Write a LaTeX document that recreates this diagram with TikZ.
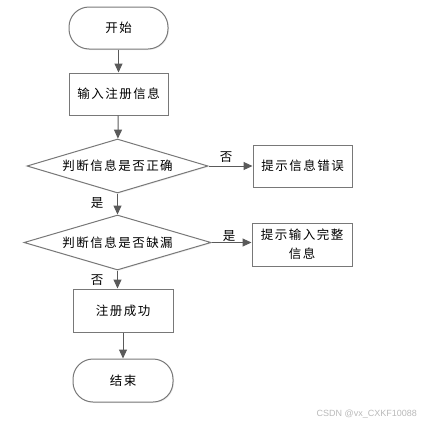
\documentclass[tikz,border=0pt]{standalone}
\usepackage{fontspec}
\usepackage{xcolor}
\usetikzlibrary{arrows.meta,shapes.geometric,shadows}
\newfontfamily\cjk[LetterSpace=12]{Noto Sans CJK SC}
\newfontfamily\wmfont{Liberation Sans}
\definecolor{edge}{RGB}{90,90,90}
\definecolor{frame}{RGB}{120,120,120}
\begin{document}
\begin{tikzpicture}[x=1pt,y=-1pt,
    base/.style={draw=frame,line width=1pt,fill=white,font=\cjk\fontsize{12.5}{18}\selectfont,
                 inner sep=0pt,drop shadow={opacity=0.12,shadow xshift=1pt,shadow yshift=-1pt}},
    terminal/.style={base,rectangle,rounded corners=20pt,minimum width=99pt,minimum height=42pt},
    procbox/.style={base,rectangle,minimum width=99pt,minimum height=42pt,align=center},
    decision/.style={base,diamond,aspect=3.35,minimum width=181pt,minimum height=54pt},
    flow/.style={-{Triangle[length=9pt,width=8pt]},edge,line width=1pt},
    lbl/.style={font=\cjk\fontsize{12.5}{14}\selectfont,inner sep=0pt}]
    \useasboundingbox (0,0) rectangle (421,426);
    % main column
    \node[terminal] (start) at (118.5,28)  {开始};
    \node[procbox]  (input) at (118.5,94)  {输入注册信息};
    \node[decision] (chk)   at (117.5,166) {判断信息是否正确};
    \node[decision,minimum width=187pt,minimum height=55pt]
                    (miss)  at (117.5,242.5) {判断信息是否缺漏};
    \node[procbox,minimum height=43pt,minimum width=100pt]
                    (ok)    at (123,310.5) {注册成功};
    \node[terminal,minimum height=43pt,minimum width=100pt]
                    (stop)  at (123,380.5) {结束};
    % side boxes
    \node[procbox]  (err)   at (302.5,166) {提示信息错误};
    \node[procbox,minimum width=100pt,minimum height=43pt,font=\cjk\fontsize{12.5}{19}\selectfont]
                    (hint)  at (302,244.5) {提示输入完整\\信息};
    % connectors
    \draw[flow] (start) -- (input);
    \draw[flow] (input) -- (chk);
    \draw[flow] (chk.east) -- (err.west);
    \draw[flow] (chk.south) -- (miss.north);
    \draw[flow] (miss.east) -- (miss.east -| hint.west);
    \draw[flow] (miss.south) -- (miss.south |- ok.north);
    \draw[flow] (ok) -- (stop);
    % branch labels
    \node[lbl] (no1)  at (226,157) {否};
    \node[lbl] (yes1) at (97,203)  {是};
    \node[lbl] (yes2) at (229,236) {是};
    \node[lbl] (no2)  at (97,280)  {否};
    % watermark
    \node[font=\wmfont\fontsize{9}{10}\selectfont,gray!55,anchor=east,inner sep=0pt]
      (mark) at (417,414) {CSDN @vx\_CXKF10088};
\end{tikzpicture}
\end{document}
